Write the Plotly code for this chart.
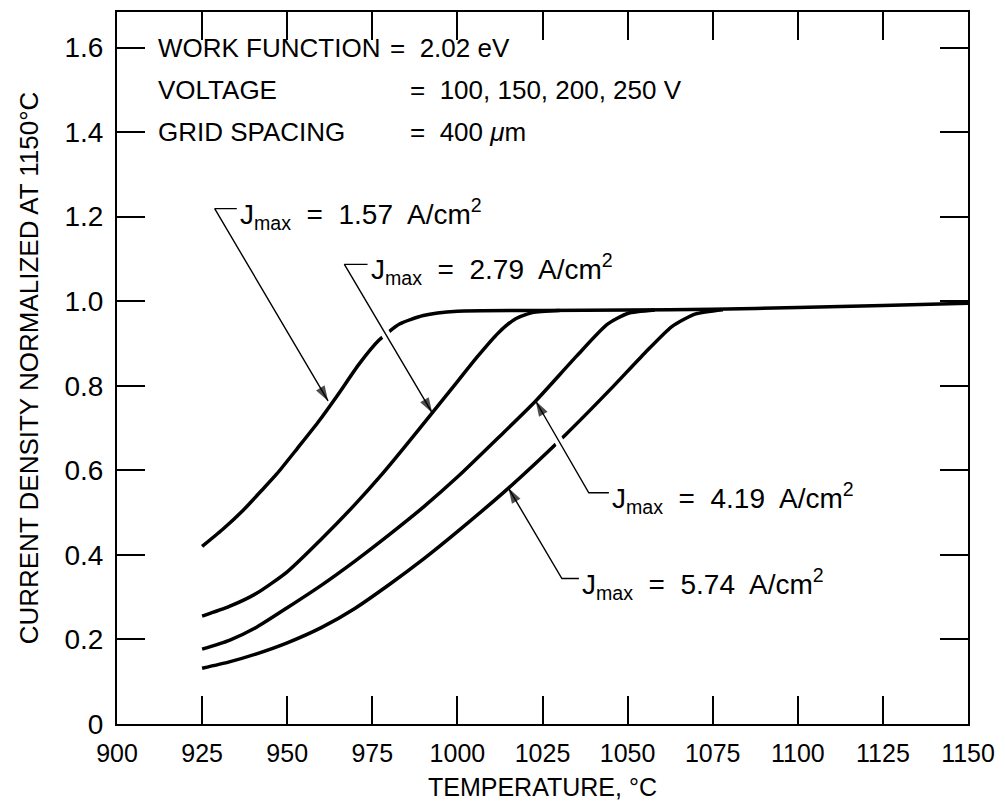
import plotly.graph_objects as go

# Temperature (deg C) and normalized current density for each J_max curve
temp_157 = [925, 931, 937, 942, 947, 953, 959, 965, 971, 977, 983, 990, 1000, 1025, 1050, 1075, 1100, 1125, 1150]
dens_157 = [0.42, 0.46, 0.505, 0.548, 0.592, 0.652, 0.713, 0.78, 0.85, 0.908, 0.946, 0.966, 0.976, 0.978, 0.979, 0.981, 0.985, 0.99, 0.995]

temp_279 = [925, 933, 941, 950, 960, 970, 978, 985, 992.6, 1000, 1006, 1012, 1017, 1022, 1030]
dens_279 = [0.255, 0.278, 0.309, 0.36, 0.437, 0.52, 0.592, 0.66, 0.736, 0.81, 0.87, 0.925, 0.958, 0.973, 0.978]

temp_419 = [925, 933, 941, 950, 960, 970, 980, 990, 1000, 1012, 1023, 1035, 1044, 1050, 1058]
dens_419 = [0.177, 0.198, 0.229, 0.275, 0.328, 0.386, 0.448, 0.513, 0.584, 0.677, 0.764, 0.87, 0.945, 0.971, 0.979]

temp_574 = [925, 933, 941, 950, 960, 970, 980, 990, 1000, 1015, 1032, 1045, 1055, 1063, 1070, 1078]
dens_574 = [0.132, 0.147, 0.166, 0.192, 0.228, 0.274, 0.33, 0.39, 0.455, 0.558, 0.686, 0.792, 0.877, 0.94, 0.97, 0.98]

x_ticks = [900, 925, 950, 975, 1000, 1025, 1050, 1075, 1100, 1125, 1150]
y_ticks = [0, 0.2, 0.4, 0.6, 0.8, 1.0, 1.2, 1.4, 1.6]
y_tick_text = ["0", "0.2", "0.4", "0.6", "0.8", "1.0", "1.2", "1.4", "1.6"]

# Curve labels: (J_max value, arrow tip on the curve, leader corner, end of short bracket)
jmax_labels = [
    ("1.57", (962, 0.764), (928.7, 1.219), (935.2, 1.219)),
    ("2.79", (992.6, 0.736), (966.8, 1.087), (973.6, 1.087)),
    ("4.19", (1023, 0.764), (1038.6, 0.547), (1044.5, 0.547)),
    ("5.74", (1015, 0.558), (1030.7, 0.344), (1035.7, 0.344)),
]

FONT = "Liberation Sans, Arial, sans-serif"
INK = "black"

fig = go.Figure()
for tx, dy in [(temp_157, dens_157), (temp_279, dens_279), (temp_419, dens_419), (temp_574, dens_574)]:
    fig.add_trace(go.Scatter(x=tx, y=dy, mode="lines",
                             line=dict(color=INK, width=3.5, shape="spline", smoothing=0.6),
                             showlegend=False, hoverinfo="skip"))

annotations = []
for value, tip, corner, bracket in jmax_labels:
    # white halo under the leader so crossed curves show a small break
    cut = 0.8
    fig.add_trace(go.Scatter(
        x=[corner[0], corner[0] + cut * (tip[0] - corner[0])],
        y=[corner[1], corner[1] + cut * (tip[1] - corner[1])],
        mode="lines", line=dict(color="white", width=9),
        showlegend=False, hoverinfo="skip"))
    # bracket -> corner -> arrow tip on the curve, arrowhead oriented along the last segment
    fig.add_trace(go.Scatter(
        x=[bracket[0], corner[0], tip[0]], y=[bracket[1], corner[1], tip[1]],
        mode="lines+markers", line=dict(color=INK, width=1.4),
        marker=dict(symbol="arrow", size=[0, 0, 16], angleref="previous",
                    color=INK, line=dict(width=0)),
        showlegend=False, hoverinfo="skip"))
    annotations.append(dict(x=bracket[0], y=bracket[1], xref="x", yref="y",
                            text=f"J<sub>max</sub>  =  {value}  A/cm<sup>2</sup>",
                            showarrow=False, xanchor="left", yanchor="middle",
                            xshift=1, yshift=-5,
                            font=dict(family=FONT, size=28, color=INK)))

# Operating conditions block
info_rows = [
    ("WORK FUNCTION", 1.6, 979.5, "=  2.02 eV"),
    ("VOLTAGE", 1.5, 985.5, "=  100, 150, 200, 250 V"),
    ("GRID SPACING", 1.4, 985.5, "=  400 <i>μ</i>m"),
]
for name, yv, eq_x, rhs in info_rows:
    annotations.append(dict(x=911.5, y=yv, xref="x", yref="y", text=name,
                            showarrow=False, xanchor="left", yanchor="middle",
                            font=dict(family=FONT, size=26, color=INK)))
    annotations.append(dict(x=eq_x, y=yv, xref="x", yref="y", text=rhs,
                            showarrow=False, xanchor="left", yanchor="middle",
                            font=dict(family=FONT, size=26, color=INK)))

axis_common = dict(showgrid=False, zeroline=False, showline=True, linecolor=INK,
                   linewidth=2, mirror="ticks", ticks="inside", tickcolor=INK,
                   tickwidth=1.5)

fig.update_layout(
    width=1005, height=811,
    margin=dict(l=117, r=35, t=10, b=87),
    paper_bgcolor="white", plot_bgcolor="white",
    font=dict(family=FONT, color=INK),
    xaxis=dict(range=[900, 1150], tickvals=x_ticks, ticklen=28,
               ticklabelstandoff=6,
               tickfont=dict(family=FONT, size=25, color=INK),
               title=dict(text="TEMPERATURE, °C", standoff=12,
                          font=dict(family=FONT, size=25, color=INK)),
               **axis_common),
    yaxis=dict(range=[0, 1.684], tickvals=y_ticks, ticktext=y_tick_text, ticklen=28,
               ticklabelstandoff=6,
               tickfont=dict(family=FONT, size=28, color=INK),
               title=dict(text="CURRENT DENSITY NORMALIZED AT 1150°C", standoff=18,
                          font=dict(family=FONT, size=26, color=INK)),
               **axis_common),
    annotations=annotations,
)

fig.write_html("out.html")
